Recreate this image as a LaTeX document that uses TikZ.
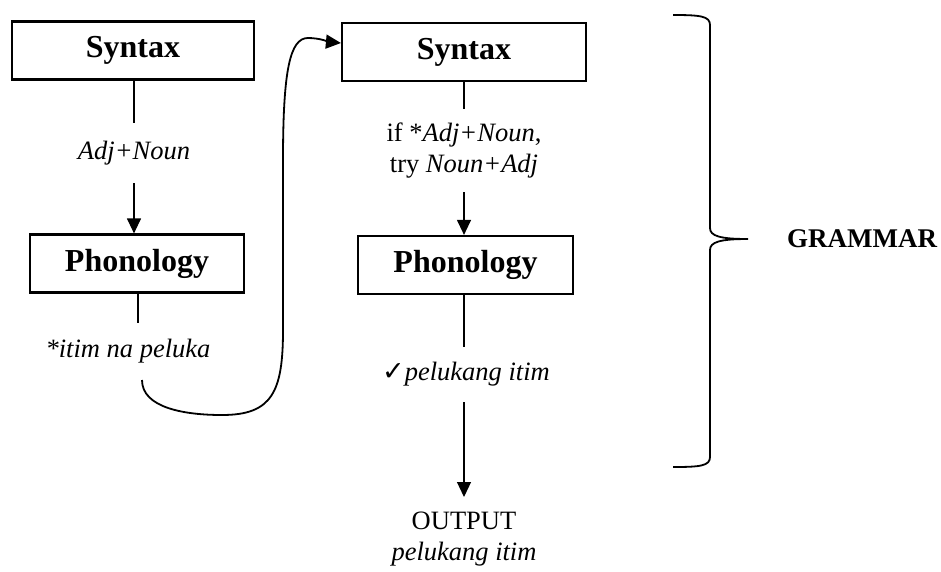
\documentclass[tikz,border=0pt]{standalone}
\usepackage{fontspec}
\setmainfont{Liberation Serif}
\newfontfamily\symfont{DejaVu Sans}
\usetikzlibrary{arrows.meta}

\begin{document}
\begin{tikzpicture}[x=1pt, y=-1pt,
  stagebox/.style={draw, line width=2.2pt, inner sep=0pt, minimum height=58pt,
    font=\fontsize{32}{38}\selectfont\bfseries},
  formtext/.style={inner sep=0pt, align=center, font=\fontsize{26.5}{31}\selectfont},
  link/.style={line width=1.2pt},
  flow/.style={line width=1.2pt, -{Triangle[length=15pt,width=14pt]}},
  loop/.style={line width=1.8pt, -{Triangle[length=15pt,width=14pt]}}]
\useasboundingbox (0,0) rectangle (941,571);

% left column: first pass
\node[stagebox, minimum width=242pt] (syL) at (133,50.5) {Syntax};
\node[formtext, minimum height=60pt] (adjL) at (134,153) {\itshape Adj+Noun};
\node[stagebox, minimum width=214pt] (phL) at (137,263.5) {Phonology};
\node[formtext, minimum height=57pt] (itimL) at (128,351.5) {\itshape *itim na peluka};
\coordinate (loopstart) at (142,380);

\draw[link] (syL.south -| adjL) -- (adjL.north);
\draw[flow] (adjL.south) -- (adjL.south |- phL.north);
\draw[link] (phL.south -| 138,0) -- (itimL.north -| 138,0);

% right column: second pass
\node[stagebox, minimum width=244pt] (syR) at (464,52) {Syntax};
\node[formtext, minimum height=83pt] (ifR) at (464,150.5)
  {if *\textit{Adj+Noun},\\try \textit{Noun+Adj}};
\node[stagebox, minimum width=215pt] (phR) at (465.5,265) {Phonology};
\node[formtext, minimum height=55pt] (okR) at (466,374.5)
  {{\symfont\fontsize{27}{30}\selectfont ✓}\textit{pelukang itim}};
\node[formtext, anchor=north] (outR) at (464,512)
  {OUTPUT\\\textit{pelukang itim}};

\draw[link] (syR.south) -- (ifR.north);
\draw[flow] (ifR.south) -- (ifR.south |- phR.north);
\draw[link] (phR.south -| syR.south) -- (okR.north -| syR.south);
\draw[flow] (okR.south -| syR.south) -- (464,497) coordinate (outtip);

% feedback loop from the first output into the second syntax pass
\draw[loop] (loopstart)
  .. controls (142,408) and (185,415) .. (222,415)
  .. controls (272,415) and (283,392) .. (283,330)
  -- (283,160)
  .. controls (283,70) and (290,38) .. (308,38)
  .. controls (320,38) and (330,42) .. ([yshift=9pt]syR.west);

% brace spanning the grammar
\draw[line width=1.8pt] (673,15) .. controls (700,15) and (710,16) .. (710,25)
  -- (710,228) .. controls (710,236) and (720,239) .. (748,239)
  coordinate (bracetip)
  .. controls (720,239) and (710,242) .. (710,250)
  -- (710,457) .. controls (710,466) and (700,467) .. (673,467);
\node[font=\fontsize{27}{32}\selectfont\bfseries, anchor=west, inner sep=0pt]
  (gram) at (787,239) {GRAMMAR};
\end{tikzpicture}
\end{document}
